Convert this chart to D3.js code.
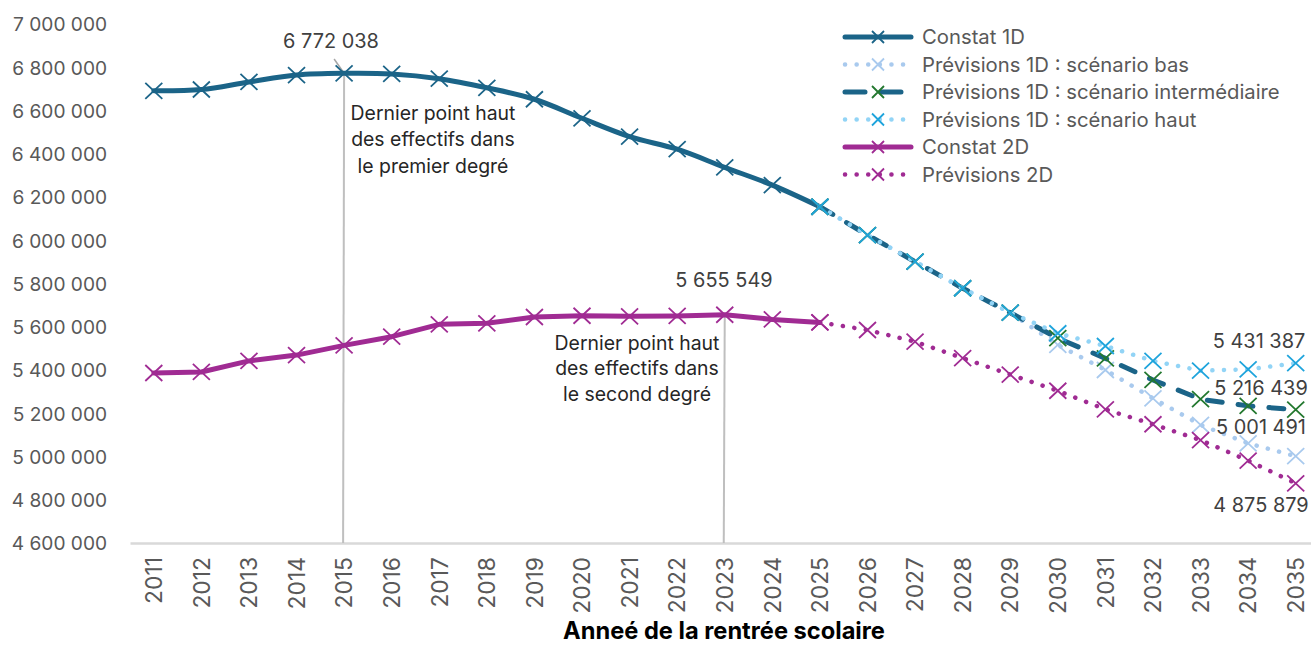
<!DOCTYPE html>
<html><head><meta charset="utf-8">
<script src="https://cdn.jsdelivr.net/npm/d3@7"></script>
<style>html,body{margin:0;padding:0;background:#fff;}svg{display:block;font-family:"Inter",sans-serif;}</style>
</head><body><svg id="c" width="1311" height="647"></svg>
<script>
const years = d3.range(2011, 2036).map(String);
const yTicks = [4600000,4800000,5000000,5200000,5400000,5600000,5800000,6000000,6200000,6400000,6600000,6800000,7000000];
const constat1DYears = d3.range(2011, 2026).map(String);
const constat1D = [6691000,6697000,6732000,6764000,6772038,6769000,6747000,6705000,6652000,6564000,6479000,6421000,6337000,6255000,6155000];
const prevYears = d3.range(2025, 2036).map(String);
const prev1DBas = [6155000,6024000,5901000,5778000,5665000,5516000,5400000,5269000,5146000,5061000,5001491];
const prev1DInter = [6155000,6024000,5901000,5778000,5665000,5547000,5454000,5354000,5265000,5234000,5216439];
const prev1DHaut = [6155000,6024000,5901000,5778000,5665000,5570000,5511000,5442000,5397000,5403000,5431387];
const constat2D = [5386000,5391000,5442000,5469000,5514000,5554000,5611000,5616000,5645000,5651000,5648000,5650000,5655549,5634000,5620000];
const prev2D = [5620000,5585000,5531000,5455000,5379000,5304000,5218000,5149000,5076000,4981000,4875879];
const legendLabels = ["Constat 1D","Prévisions 1D : scénario bas","Prévisions 1D : scénario intermédiaire","Prévisions 1D : scénario haut","Constat 2D","Prévisions 2D"];
const xTitle = "Anneé de la rentrée scolaire";
const noteText1 = ["Dernier point haut","des effectifs dans","le premier degré"];
const noteText2 = ["Dernier point haut","des effectifs dans","le second degré"];

const fr = d3.formatLocale({decimal:",", thousands:"\u00a0", grouping:[3], currency:["","€"]});
const fmt = fr.format(",d");

const svg = d3.select("#c");
const x = d3.scaleBand().domain(years).range([130, 1319.5]);
const cx = d => x(d) + x.bandwidth()/2;
const y = d3.scaleLinear().domain([4600000, 7000000]).range([543, 24]);

function fitSize(str, target, weight, family) {
  const t = svg.append("text").style("font-size","20px").style("font-weight",weight||"normal")
    .style("font-family", family||"Inter").text(str);
  const w = t.node().getComputedTextLength();
  t.remove();
  return 20 * target / w;
}
const fsTick = fitSize("7\u00a0000\u00a0000", 94);
const fsYear = fitSize("2011", 47);
const fsLegend = fitSize(legendLabels[2], 358);
const fsLabel = fitSize("6\u00a0772\u00a0038", 96);
const fsNote = fitSize("Dernier point haut", 165);
const fsTitle = fitSize(xTitle, 322, "bold");

const series = [
  {name:legendLabels[0], xs:constat1DYears, vs:constat1D, line:"#1b6488", w:5, dash:null, mk:"#1b6488", curve:d3.curveCatmullRom},
  {name:legendLabels[1], xs:prevYears, vs:prev1DBas, line:"#a9caee", w:4.5, dash:"0.1 11.5", mk:"#a9caee", curve:d3.curveLinear},
  {name:legendLabels[2], xs:prevYears, vs:prev1DInter, line:"#1b6488", w:5, dash:"15 16", mk:"#23782f", curve:d3.curveLinear},
  {name:legendLabels[3], xs:prevYears, vs:prev1DHaut, line:"#92d4f6", w:4.5, dash:"0.1 11.5", mk:"#1ea4dc", curve:d3.curveLinear},
  {name:legendLabels[4], xs:constat1DYears, vs:constat2D, line:"#a02b93", w:5, dash:null, mk:"#a02b93", curve:d3.curveLinear},
  {name:legendLabels[5], xs:prevYears, vs:prev2D, line:"#a02b93", w:4.5, dash:"0.1 11.5", mk:"#a02b93", curve:d3.curveLinear}
];

const yAxis = d3.axisLeft(y).tickValues(yTicks).tickFormat(fmt).tickSize(0).tickPadding(0);
const gy = svg.append("g").attr("transform","translate(107,0)").call(yAxis);
gy.select(".domain").remove();
gy.selectAll("text").attr("fill","#595959").style("font-size",fsTick+"px").style("font-family","Inter,sans-serif").attr("dy","0.36em");

const xAxis = d3.axisBottom(x).tickSize(0).tickPadding(0);
const gx = svg.append("g").attr("transform","translate(0,543)").call(xAxis);
gx.select(".domain").attr("stroke","#d9d9d9").attr("stroke-width",2.5);
gx.selectAll("text").attr("fill","#595959").style("font-size",fsYear+"px").style("font-family","Inter,sans-serif")
  .attr("text-anchor","end").attr("transform","translate(0,14) rotate(-90)").attr("dx",0).attr("dy","0.36em").attr("y",0).attr("x",0);

svg.append("line").attr("x1",cx("2015")).attr("x2",cx("2015")-1).attr("y1",y(6772038)).attr("y2",543).attr("stroke","#bfbfbf").attr("stroke-width",2);
svg.append("line").attr("x1",cx("2023")).attr("x2",cx("2023")-1).attr("y1",y(5655549)).attr("y2",543).attr("stroke","#bfbfbf").attr("stroke-width",2);
svg.append("line").attr("x1",cx("2015")-10).attr("y1",59).attr("x2",cx("2015")).attr("y2",y(6772038)).attr("stroke","#a6a6a6").attr("stroke-width",1.5);

const lineGen = s => d3.line().curve(s.curve).x((d,i)=>cx(s.xs[i])).y(d=>y(d));
const xPath = "M-8.5,-8L8.5,8M-8.5,8L8.5,-8";
series.forEach(s => {
  svg.append("path").datum(s.vs).attr("d", lineGen(s)).attr("fill","none")
    .attr("stroke", s.line).attr("stroke-width", s.w).attr("stroke-linecap","round").attr("stroke-linejoin","round")
    .attr("stroke-dasharray", s.dash);
});
series.forEach(s => {
  svg.append("g").selectAll("path").data(s.vs).join("path")
    .attr("transform",(d,i)=>`translate(${cx(s.xs[i])},${y(d)})`)
    .attr("d", xPath).attr("stroke", s.mk).attr("stroke-width",1.8).attr("fill","none");
});

const lab = (t, X, Y) => svg.append("text").attr("x",X).attr("y",Y).attr("text-anchor","middle").attr("dy","0.36em")
  .attr("fill","#404040").style("font-size",fsLabel+"px").text(t);
lab(fmt(6772038), 331, 41);
lab(fmt(5655549), 724, 280);
lab(fmt(prev1DHaut[10]), 1259, 341);
lab(fmt(prev1DInter[10]), 1261, 388);
lab(fmt(prev1DBas[10]), 1261, 427);
lab(fmt(prev2D[10]), 1261, 505);

const note = (lines, X, Y0, dy) => lines.forEach((t,i)=> svg.append("text").attr("x",X).attr("y",Y0+i*dy).attr("text-anchor","middle").attr("dy","0.36em")
  .attr("fill","#262626").style("font-size",fsNote+"px").text(t));
note(noteText1, 433, 113, 26.5);
note(noteText2, 637, 343, 25.5);

svg.append("text").attr("x",724).attr("y",630).attr("text-anchor","middle").attr("dy","0.36em").attr("fill","#000").style("font-size",fsTitle+"px").style("font-weight","bold").text(xTitle);

const lg = svg.append("g");
series.forEach((s,i) => {
  const yy = 37 + i*27.5;
  lg.append("line").attr("x1",845).attr("x2",911).attr("y1",yy).attr("y2",yy).attr("stroke",s.line).attr("stroke-width",s.w)
    .attr("stroke-linecap","round").attr("stroke-dasharray", s.dash ? (i===2?"20 16":"0.1 11.5") : null);
  lg.append("path").attr("transform",`translate(878,${yy})`).attr("d","M-6,-6L6,6M-6,6L6,-6").attr("stroke",s.mk).attr("stroke-width",1.8).attr("fill","none");
  lg.append("text").attr("x",922).attr("y",yy).attr("dy","0.36em").attr("fill","#595959").style("font-size",fsLegend+"px").text(s.name);
});
</script></body></html>
